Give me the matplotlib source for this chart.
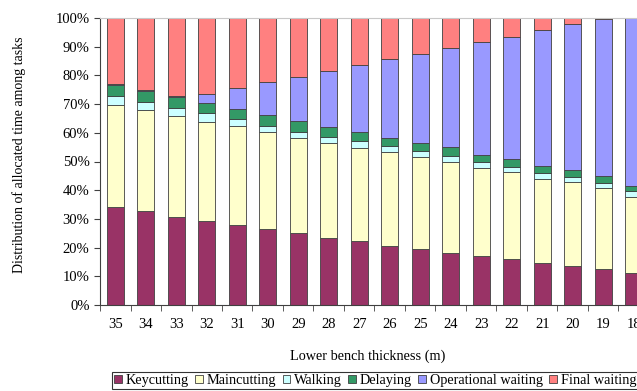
import numpy as np
import matplotlib.pyplot as plt
from matplotlib.patches import Patch

# lower bench thickness (m), thickest first
thickness = ['35', '34', '33', '32', '31', '30', '29', '28', '27',
             '26', '25', '24', '23', '22', '21', '20', '19', '18']

# cumulative tops of each task (% of allocated time)
top_keycutting = [34.0, 32.7, 30.7, 29.3, 27.9, 26.4, 25.0, 23.5, 22.3,
                  20.7, 19.6, 18.2, 17.0, 16.0, 14.5, 13.6, 12.7, 11.3]
top_maincutting = [69.6, 67.9, 65.7, 63.9, 62.4, 60.3, 58.2, 56.3, 54.8,
                   53.2, 51.6, 49.9, 47.7, 46.2, 44.0, 42.7, 40.6, 37.7]
top_walking = [72.7, 70.8, 68.6, 66.9, 64.9, 62.4, 60.4, 58.6, 57.0,
               55.3, 53.7, 52.0, 49.7, 48.1, 45.9, 44.6, 42.6, 39.6]
top_delaying = [76.5, 74.6, 72.5, 70.4, 68.3, 66.1, 64.1, 62.1, 60.2,
                58.2, 56.3, 55.2, 52.3, 50.9, 48.4, 46.9, 44.8, 41.6]
top_operational = [77.0, 75.0, 72.8, 73.4, 75.5, 77.6, 79.4, 81.4, 83.5,
                   85.6, 87.3, 89.4, 91.6, 93.3, 95.7, 98.0, 99.7, 100.0]
top_final = [100.0] * 18

tasks = ['Keycutting', 'Maincutting', 'Walking', 'Delaying',
         'Operational waiting', 'Final waiting']
colors = ['#993366', '#FFFFCC', '#CCFFFF', '#339966', '#9999FF', '#FF8080']
tops = [top_keycutting, top_maincutting, top_walking, top_delaying,
        top_operational, top_final]

plt.rcParams['font.family'] = ['Liberation Serif', 'DejaVu Serif']

W, H = 637, 391
fig = plt.figure(figsize=(W / 100, H / 100), dpi=100)
ax = fig.add_axes([100 / W, (H - 305) / H, 549 / W, 287 / H])

x = np.arange(len(thickness))
bottom = np.zeros(len(thickness))
for name, col, top in zip(tasks, colors, tops):
    top = np.array(top)
    ax.bar(x, top - bottom, 0.56, bottom=bottom, color=col,
           edgecolor='#404040', linewidth=0.6, label=name)
    bottom = top

ax.set_xlim(-0.5, len(thickness) - 0.5)
ax.set_ylim(0, 100)
ax.set_yticks(np.arange(0, 101, 10))
ax.set_yticklabels([f'{v}%' for v in range(0, 101, 10)])
ax.set_xticks(x)
ax.set_xticklabels(thickness)
ax.set_xticks(np.arange(-0.5, len(thickness), 1), minor=True)
ax.tick_params(axis='x', which='major', length=0, pad=9, labelsize=10.5)
ax.tick_params(axis='x', which='minor', length=4, direction='out', color='#404040')
ax.tick_params(axis='y', length=4, direction='out', labelsize=10.5, color='#404040')

for side in ['left', 'bottom']:
    ax.spines[side].set_color('#404040')
ax.spines['top'].set_color('#c8c8c8')
ax.spines['right'].set_visible(False)

ax.set_ylabel('Distribution of allocated time among tasks', fontsize=10)
ax.yaxis.set_label_coords(-74 / 549, 1 - (155 - 18) / 287)
ax.set_xlabel('Lower bench thickness (m)', fontsize=10.3)
ax.xaxis.set_label_coords((368 - 100) / 549, -(350 - 305) / 287)

handles = [Patch(facecolor=c, edgecolor='#404040', linewidth=0.6) for c in colors]
leg = fig.legend(handles, tasks, loc='upper left', ncol=6,
                 bbox_to_anchor=(112 / W, 1 - 372 / H), frameon=True,
                 fancybox=False, fontsize=10.3, handlelength=0.55, handleheight=0.55,
                 handletextpad=0.25, columnspacing=0.45, borderpad=0.15,
                 borderaxespad=0)
leg.get_frame().set_edgecolor('black')
leg.get_frame().set_linewidth(0.8)

fig.savefig('out.png', dpi=100)
